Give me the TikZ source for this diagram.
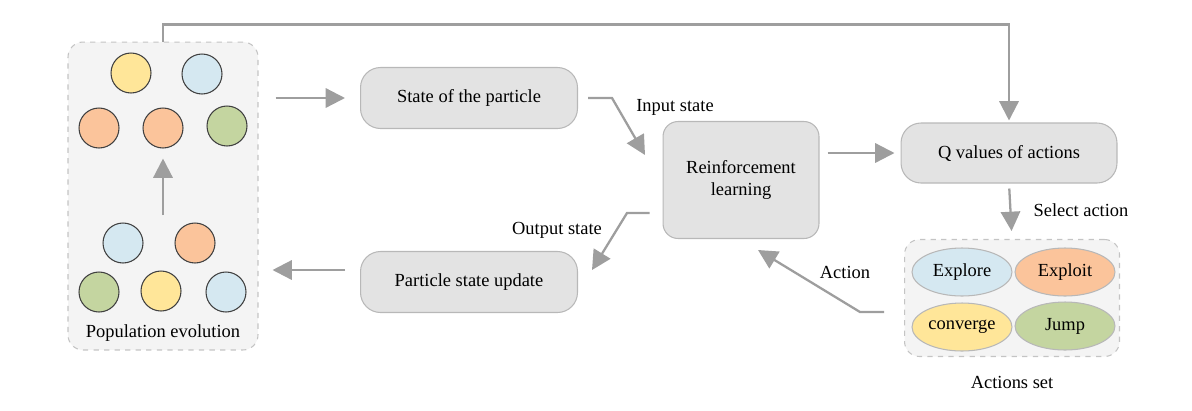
\documentclass[tikz,border=0pt]{standalone}
\usepackage{fontspec}
\setmainfont{Liberation Serif}
\usepackage{tikz}
\usetikzlibrary{arrows.meta, positioning, shapes.geometric}

\definecolor{linegray}{HTML}{9E9E9E}
\definecolor{boxfill}{HTML}{E3E3E3}
\definecolor{boxline}{HTML}{B8B8B8}
\definecolor{panelfill}{HTML}{F4F4F4}
\definecolor{panelline}{HTML}{C4C4C4}
\definecolor{cyellow}{HTML}{FFE699}
\definecolor{cblue}{HTML}{D5E8F1}
\definecolor{corange}{HTML}{FBC49B}
\definecolor{cgreen}{HTML}{C4D5A0}

\tikzset{
  arr/.style={draw=linegray, line width=1.3pt, -{Triangle[length=11pt,width=11pt]}},
  procbox/.style={draw=boxline, fill=boxfill, rounded corners=0.4cm, line width=0.6pt,
    minimum width=4.34cm, minimum height=1.22cm},
  panel/.style={draw=panelline, fill=panelfill, dashed, rounded corners=0.3cm, line width=0.6pt},
  particle/.style={circle, draw=black!75, line width=0.6pt, minimum size=0.8cm, inner sep=0pt},
  act/.style={ellipse, draw=boxline, line width=0.6pt, minimum width=2cm, minimum height=0.96cm, inner sep=0pt}
}

\begin{document}
\begin{tikzpicture}[x=0.02cm, y=-0.02cm, font=\fontsize{10.5}{12}\selectfont, auto]
    \useasboundingbox (0,0) rectangle (1192,410);
    % panels
    \node[panel, minimum width=3.8cm, minimum height=6.16cm] (pop) at (163,196) {};
    \node[panel, minimum width=4.3cm, minimum height=2.34cm] (actset) at (1012,298) {};
    % particles
    \node[particle, fill=cyellow] (p1) at (131,73) {};
    \node[particle, fill=cblue] (p2) at (202,74) {};
    \node[particle, fill=corange] (p3) at (99,128) {};
    \node[particle, fill=corange] (p4) at (163,128) {};
    \node[particle, fill=cgreen] (p5) at (227,126) {};
    \node[particle, fill=cblue] (q1) at (123,243) {};
    \node[particle, fill=corange] (q2) at (195,243) {};
    \node[particle, fill=cgreen] (q3) at (99,292) {};
    \node[particle, fill=cyellow] (q4) at (161,291) {};
    \node[particle, fill=cblue] (q5) at (226,292) {};
    \node (poplabel) at (163,333) {Population evolution};
    % process boxes
    \node[procbox] (state) at (469,98) {State of the particle};
    \node[procbox] (update) at (469,282) {Particle state update};
    \node[procbox, rounded corners=0.3cm, minimum width=3.12cm, minimum height=2.34cm,
      align=center] (rl) at (741,180) {Reinforcement\\learning};
    \node[procbox, minimum width=4.32cm, minimum height=1.2cm] (qval) at (1009,153) {Q values of actions};
    % actions
    \node[act, fill=cblue] (explore) at (962,272) {Explore};
    \node[act, fill=corange] (exploit) at (1065,272) {Exploit};
    \node[act, fill=cyellow] (converge) at (962,327) {converge};
    \node[act, fill=cgreen] (jump) at (1065,326) {Jump};
    \node (actlabel) at (1012,382) {Actions set};
    % bend points
    \coordinate (inbend) at (612,98);
    \coordinate (intip) at (645,155);
    \coordinate (outbend) at (627,213);
    \coordinate (outtip) at (592,270);
    \coordinate (actbend) at (860,312);
    \coordinate (acttip) at (758,250);
    % labels
    \node (inlabel) at (675,107) {Input state};
    \node (outlabel) at (557,230) {Output state};
    \node (actionlabel) at (845,272) {Action};
    \node (sellabel) at (1081,210) {Select action};
    % evolution
    \draw[arr, shorten <=0.56cm, shorten >=0.2cm] (q1 -| p4) -- (p4);
    % horizontal lines
    \draw[arr, shorten <=0.34cm, shorten >=0.3cm] (pop.east |- state.west) -- (state.west);
    \draw[arr, shorten <=0.3cm, shorten >=0.28cm] ([yshift=0.24cm]update.west) -- ([yshift=0.24cm]update.west -| pop.east);
    \draw[arr, shorten <=0.16cm, shorten >=0.12cm] (rl.east |- qval.west) -- (qval.west);
    % bent lines
    \draw[arr, shorten <=0.2cm] (state.east) -- (inbend) -- (intip);
    \draw[arr, shorten <=0.26cm] (outbend -| rl.west) -- (outbend) -- (outtip);
    \draw[arr, shorten <=0.4cm] (actbend -| actset.west) -- (actbend) -- (acttip);
    % vertical lines
    \draw[arr, shorten <=0.1cm, shorten >=0.16cm] (qval.south) -- (actset.north);
    \draw[arr, shorten >=0.04cm] (pop.north) -- ++(0,-17) -| (qval.north);
\end{tikzpicture}
\end{document}
